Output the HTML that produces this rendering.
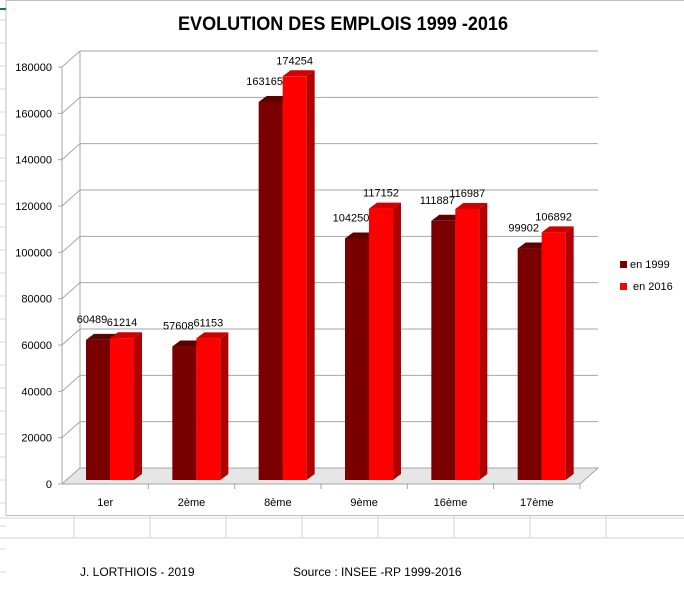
<!DOCTYPE html>
<html><head><meta charset="utf-8"><style>
body{margin:0;background:#fff;font-family:"Liberation Sans",sans-serif}
svg text{font-family:"Liberation Sans",sans-serif}
</style></head><body>
<svg width="684" height="589" viewBox="0 0 684 589" xmlns="http://www.w3.org/2000/svg">
<g id="sheet"></g>
<rect x="6" y="0.5" width="690" height="515" fill="#fff" stroke="#bfbfbf"/>
<line x1="0" y1="9" x2="6" y2="9" stroke="#217346" stroke-width="2"/>
<text x="343" y="30" text-anchor="middle" font-size="19" font-weight="bold" fill="#000" textLength="330" lengthAdjust="spacingAndGlyphs">EVOLUTION DES EMPLOIS 1999 -2016</text>
<g id="grid"></g>
<g id="bars"></g>
<g id="labels"></g>
<rect x="620" y="261" width="7" height="7" fill="#7a0000"/>
<text x="630" y="268" font-size="11">en 1999</text>
<rect x="620" y="283" width="7" height="7" fill="#ff0000"/>
<text x="633" y="290" font-size="11">en 2016</text>
<text x="80" y="576" font-size="12">J. LORTHIOIS - 2019</text>
<text x="293" y="576" font-size="12">Source : INSEE -RP 1999-2016</text>
</svg>
<script>
const categories=["1er","2ème","8ème","9ème","16ème","17ème"];
const values1999=[60489,57608,163165,104250,111887,99902];
const values2016=[61214,61153,174254,117152,116987,106892];
const yTicks=[0,20000,40000,60000,80000,100000,120000,140000,160000,180000];
const NS="http://www.w3.org/2000/svg";
function mk(p,t,a){const e=document.createElementNS(NS,t);for(const k in a)e.setAttribute(k,a[k]);p.appendChild(e);return e;}
const x0=62,x1=580,y0=484,yTop=67,dx=18,dy=-16,yMax=180000;
function yF(v){return y0-(v/yMax)*(y0-yTop);}
const gw=(x1-x0)/categories.length;
function xF(i){return x0+i*gw;}
const sheet=document.getElementById('sheet');
for(let y=20;y<589;y+=23){if(y>515&&y<545){}const l=mk(sheet,'line',{x1:0,y1:y,x2:6,y2:y,stroke:'#d9d9d9'});}
[518,538].forEach(y=>{const l=mk(sheet,'line',{x1:0,y1:y,x2:684,y2:y,stroke:'#d4d4d4'});});
[74,150,226,302,378,454,530,606].forEach(x=>{const l=mk(sheet,'line',{x1:x,y1:515,x2:x,y2:538,stroke:'#d4d4d4'});});
const grid=document.getElementById('grid');
yTicks.forEach(t=>{const y=yF(t);
 const g=mk(grid,'polyline',{points:`${x0},${y} ${x0+dx},${y+dy} ${x1+dx},${y+dy}`,fill:'none',stroke:'#a6a6a6','stroke-width':1});
 
 const tk=mk(grid,'line',{x1:x0-4,y1:y,x2:x0,y2:y,stroke:'#a6a6a6'});
 
 const tx=mk(grid,'text',{x:x0-10,y:y+4,'font-size':11,'text-anchor':'end'});tx.textContent=t;
 });
const ax=mk(grid,'line',{x1:x0,y1:y0,x2:x0,y2:yTop,stroke:'#a6a6a6'});
const bw=mk(grid,'line',{x1:x0+dx,y1:y0+dy,x2:x0+dx,y2:yTop+dy,stroke:'#a6a6a6'});
const fl=mk(grid,'polygon',{points:`${x0},${y0} ${x0+dx},${y0+dy} ${x1+dx},${y0+dy} ${x1},${y0}`,fill:'#e6e6e6',stroke:'#a6a6a6'});
const xa=mk(grid,'line',{x1:x0,y1:y0,x2:x1,y2:y0,stroke:'#a6a6a6'});
categories.forEach((c,i)=>{const tk=mk(grid,'line',{x1:xF(i+1),y1:y0,x2:xF(i+1),y2:y0+5,stroke:'#a6a6a6'});
 const tx=mk(grid,'text',{x:xF(i)+gw/2,y:y0+22,'font-size':11,'text-anchor':'middle'});tx.textContent=c;});
const bars=document.getElementById('bars'),labels=document.getElementById('labels');
const base=480,bwid=24,ddx=8,ddy=-6;
function bar(x,v,front,side,top,name){const yt=base-(v/yMax)*(y0-yTop);
 const g=mk(bars,'g',{});
 mk(g,'polygon',{points:`${x+bwid},${base} ${x+bwid+ddx},${base+ddy} ${x+bwid+ddx},${yt+ddy} ${x+bwid},${yt}`,fill:side});
 mk(g,'polygon',{points:`${x},${yt} ${x+ddx},${yt+ddy} ${x+bwid+ddx},${yt+ddy} ${x+bwid},${yt}`,fill:top});
 mk(g,'rect',{x:x,y:yt,width:bwid,height:base-yt,fill:front});
 return yt;}
categories.forEach((c,i)=>{const gx=xF(i)+24;
 const t1=bar(gx,values1999[i],'#7a0000','#5a0000','#5c0000','bar-1999-'+i);
 const t2=bar(gx+bwid,values2016[i],'#ff0000','#b00000','#d00000','bar-2016-'+i);
 const l1=mk(labels,'text',{x:gx+6,y:t1-17,'font-size':11,'text-anchor':'middle'});l1.textContent=values1999[i];
 const l2=mk(labels,'text',{x:gx+bwid+12,y:t2-12,'font-size':11,'text-anchor':'middle'});l2.textContent=values2016[i];
});
</script>
</body></html>
